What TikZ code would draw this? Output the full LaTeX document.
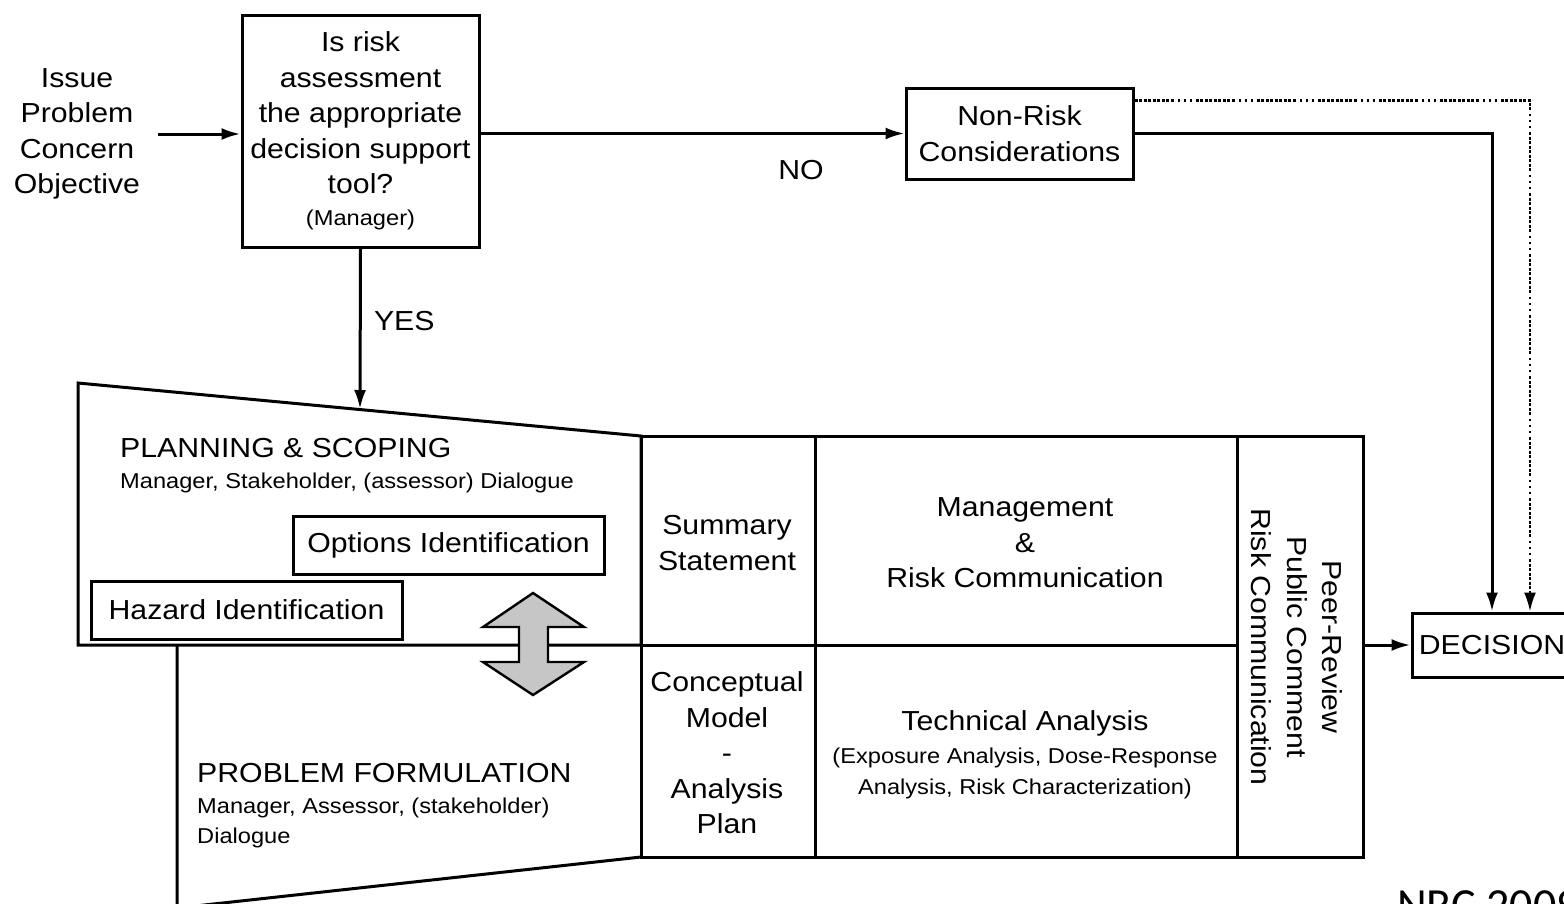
\documentclass[tikz,border=0pt]{standalone}
\usepackage{fontspec}
\setmainfont{Liberation Sans}[FakeStretch=1.1]
\newfontfamily\nrcfont{Carlito}
\usetikzlibrary{arrows.meta,calc}
\newcommand\mainsz{\fontsize{27.5}{35.5}\selectfont}
\newcommand\smallsz{\fontsize{21.5}{31}\selectfont}
\tikzset{
  box/.style={draw, line width=3pt, fill=white, inner sep=0pt, align=center},
  lbl/.style={inner sep=0pt, align=center},
  edge/.style={line width=3pt, line join=miter},
  arr/.style={line width=3pt, -{Latex[length=19pt,width=12pt]}},
  dotarr/.style={line width=2.2pt, -{Latex[length=19pt,width=12pt]},
    dash pattern=on 3pt off 1.5pt on 3pt off 1.5pt on 3pt off 1.5pt on 3pt off 1.5pt
      on 3pt off 1.5pt on 3pt off 1.5pt on 3pt off 1.5pt on 3pt off 1.5pt
      on 3pt off 4pt on 2pt off 4pt on 2pt off 4pt on 2pt off 4pt},
  twohead/.style={draw, line width=2.4pt, fill=gray!45, line join=miter}
}
\begin{document}
\begin{tikzpicture}[x=1pt, y=-1pt, font=\mainsz]
\useasboundingbox (0,0) rectangle (1564,903);
\clip (0,0) rectangle (1564,903);
\fill[white] (0,0) rectangle (1564,903);

% --- top row: input, screening question, non-risk branch ---
\node[lbl] (issue) at (77,134) {Issue\\Problem\\Concern\\Objective};
\node[box, minimum width=237pt, minimum height=232pt] (q) at (360.5,131)
  {Is risk\\assessment\\the appropriate\\decision support\\tool?\\[-4pt]{\smallsz (Manager)}};
\node[box, minimum width=227pt, minimum height=91pt] (nonrisk) at (1019.5,133.5)
  {Non-Risk\\Considerations};
\node[box, minimum width=160pt, minimum height=64pt, align=left] (decision) at (1492,645)
  {DECISION};

\draw[arr] ([xshift=18pt]issue.east) -- (q.west |- issue.east);
\draw[arr] (q.east |- nonrisk.west) -- (nonrisk.west)
  node[pos=0.756, yshift=-37pt, lbl] {NO};
\draw[arr] (nonrisk.east) -| (decision.north);
\draw[dotarr] ([yshift=-14pt]nonrisk.north east) -| ([xshift=38pt]decision.north);

% --- planning & scoping / problem formulation funnels ---
\coordinate (ps1) at (78,383);
\coordinate (ps2) at (641,436);
\coordinate (ps3) at (641,645);
\coordinate (ps4) at (78,645);
\coordinate (pf1) at (177,645);
\coordinate (pf2) at (177,908);
\coordinate (pf3) at (641,857);
\coordinate (yesend) at (360,409);
\draw[edge] (ps4) -- (ps1) -- (ps2) -- (ps3) -- cycle;
\draw[edge] (pf1) -- (pf2) -- (pf3);

\draw[arr] (q.south) -- (yesend)
  node[pos=0.45, xshift=44pt, lbl] {YES};

\node[lbl, anchor=base west] (pstitle) at (120,457) {PLANNING \& SCOPING};
\node[lbl, anchor=base west] (pssub) at (120,488) {\smallsz Manager, Stakeholder, (assessor) Dialogue};
\node[box, minimum width=311pt, minimum height=58pt] (options) at (448.5,545) {Options Identification};
\node[box, minimum width=311pt, minimum height=58pt] (hazard) at (246.5,610) {Hazard Identification};

\node[lbl, anchor=base west] (pftitle) at (197,782) {PROBLEM FORMULATION};
\node[lbl, anchor=base west] (pfsub1) at (197,813) {\smallsz Manager, Assessor, (stakeholder)};
\node[lbl, anchor=base west] (pfsub2) at (197,843) {\smallsz Dialogue};

% --- central grid ---
\coordinate (g1) at (641,436);
\coordinate (g2) at (1363,857);
\draw[edge] (g1) rectangle (g2);
\draw[edge] (815,436) -- (815,857);
\draw[edge] (1237,436) -- (1237,857);
\draw[edge] (641,645) -- (1237,645);

\node[lbl] (summary) at (727,543) {Summary\\Statement};
\node[lbl] (mgmt) at (1025,543) {Management\\\&\\Risk Communication};
\node[lbl] (concept) at (727,753) {Conceptual\\Model\\-\\Analysis\\Plan};
\node[lbl] (tech) at (1025,755)
  {Technical Analysis\\[-3pt]{\smallsz (Exposure Analysis, Dose-Response}\\[-4pt]{\smallsz Analysis, Risk Characterization)}};
\node[lbl, rotate=-90] (review) at (1297,647)
  {Peer-Review\\Public Comment\\Risk Communication};

\coordinate (gridout) at (1363,645);
\draw[arr] (gridout) -- (decision.west);

% --- two-way exchange between the funnels ---
\draw[twohead] (533,593) -- (584,627) -- (548,627) -- (548,662) -- (584,662)
  -- (533,695) -- (483,662) -- (519,662) -- (519,627) -- (483,627) -- cycle;

% --- source ---
\node[anchor=base west, inner sep=0pt, font=\nrcfont\fontsize{46}{46}\selectfont] (src) at (1397,920) {NRC 2009};
\end{tikzpicture}
\end{document}
